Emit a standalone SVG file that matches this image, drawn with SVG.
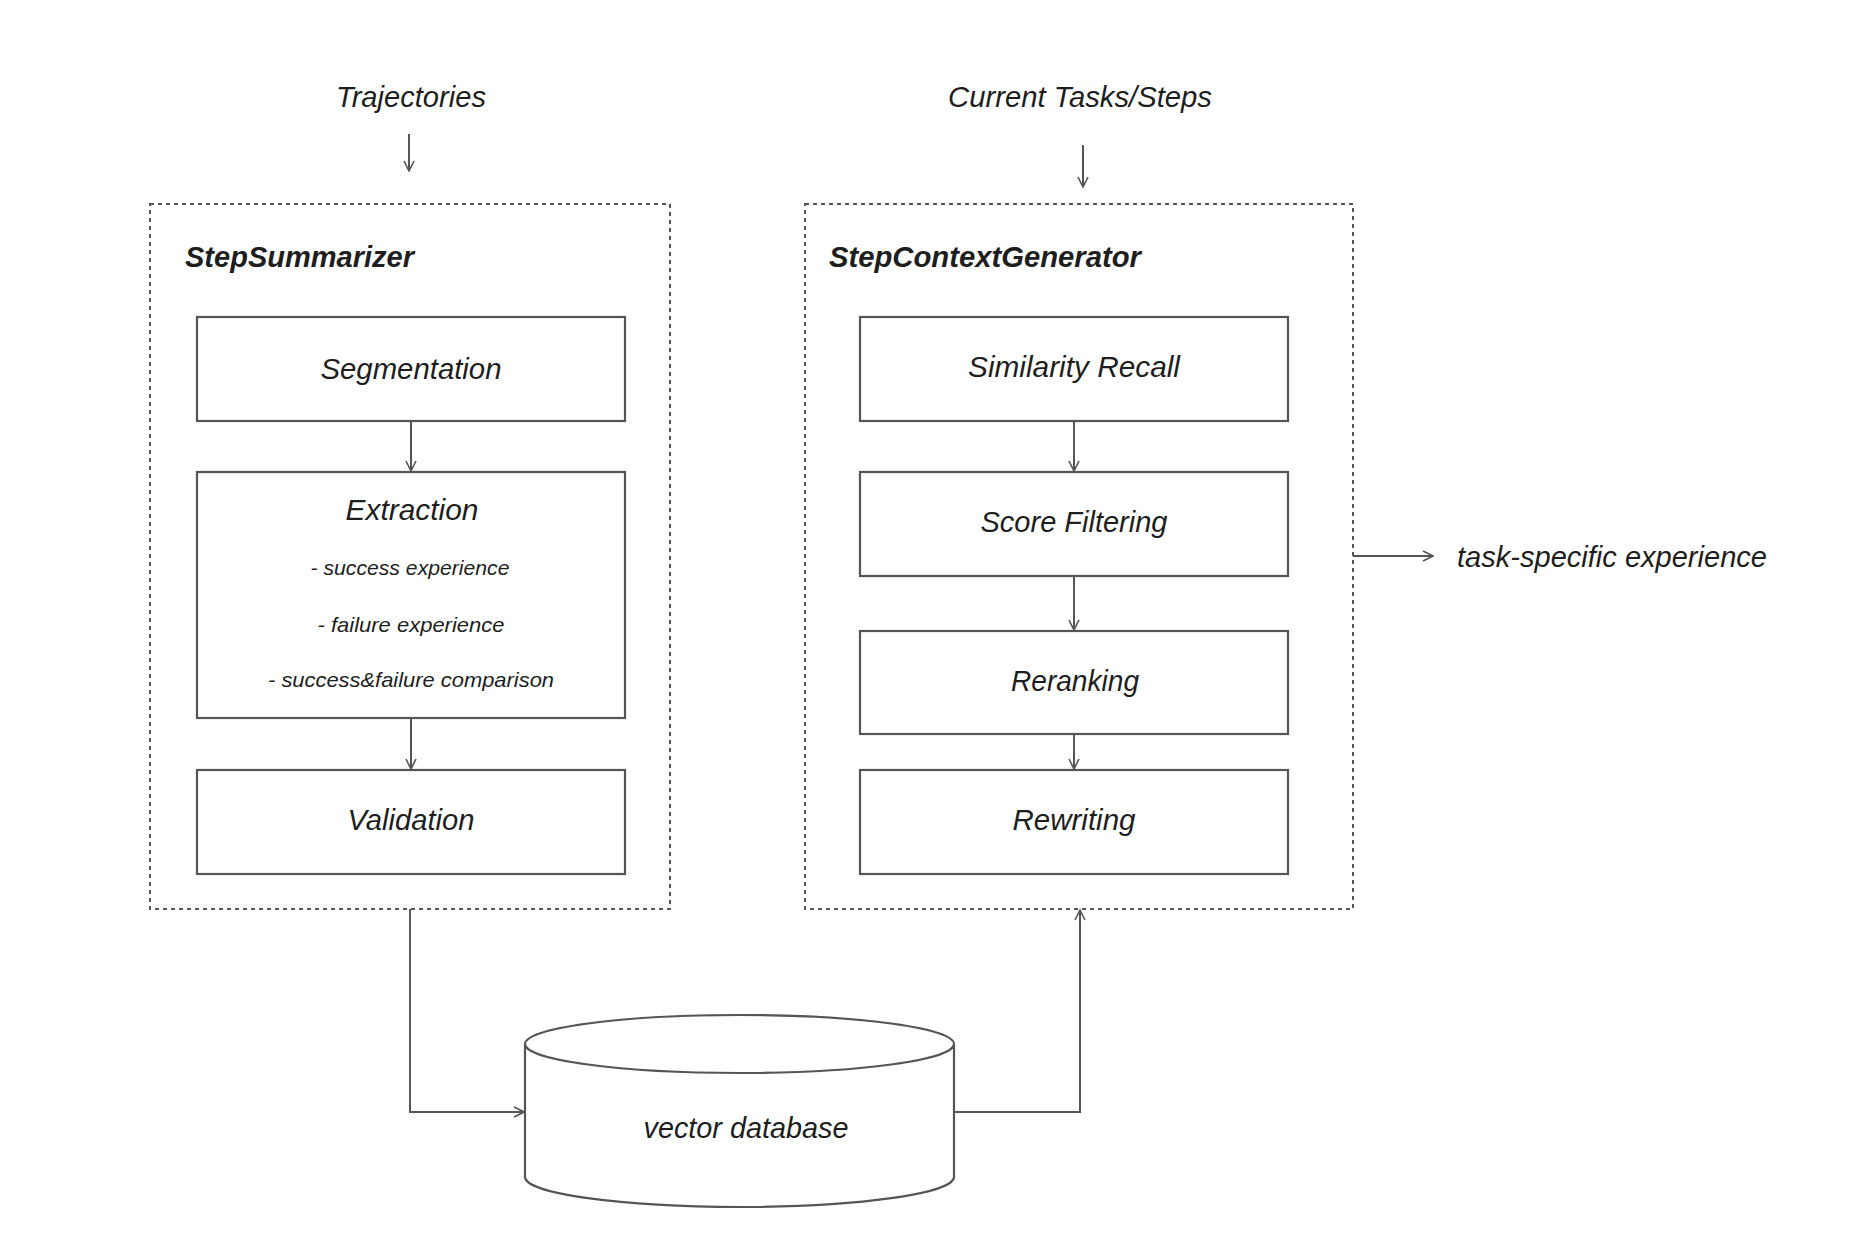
<svg xmlns="http://www.w3.org/2000/svg" width="1860" height="1244" viewBox="0 0 1860 1244">
<defs>
<marker id="arr" viewBox="0 0 12 12" refX="11" refY="6" markerWidth="12" markerHeight="12" markerUnits="userSpaceOnUse" orient="auto">
<path d="M1,1 L11,6 L1,11" fill="none" stroke="#555" stroke-width="1.6"/>
</marker>
<style>
.box{fill:#fff;stroke:#555;stroke-width:2.2}
.dash{fill:none;stroke:#555;stroke-width:2;stroke-dasharray:4 4}
.con{fill:none;stroke:#555;stroke-width:2;marker-end:url(#arr)}
.t{font-family:"Liberation Sans","DejaVu Sans",sans-serif;font-style:italic;fill:#1e1e1e;text-anchor:middle;lengthAdjust:spacingAndGlyphs}
.big{font-size:29px}
.small{font-size:21px}
.title{font-size:30px;font-weight:bold;text-anchor:start}
</style>
</defs>
<rect width="1860" height="1244" fill="#fff"/>

<g id="label-trajectories"><text class="t big" x="411" y="107" textLength="150" lengthAdjust="spacingAndGlyphs">Trajectories</text></g>
<g id="label-current"><text class="t big" x="1080" y="107" textLength="264" lengthAdjust="spacingAndGlyphs">Current Tasks/Steps</text></g>

<g id="step-summarizer">
<rect class="dash" x="150" y="204" width="520" height="705"/>
<text class="t title" x="185" y="267" textLength="229" lengthAdjust="spacingAndGlyphs">StepSummarizer</text>
</g>
<g id="step-context-generator">
<rect class="dash" x="805" y="204" width="548" height="705"/>
<text class="t title" x="829" y="267" textLength="312" lengthAdjust="spacingAndGlyphs">StepContextGenerator</text>
</g>

<g id="segmentation"><rect class="box" x="197" y="317" width="428" height="104"/><text class="t big" x="411" y="379" textLength="181" lengthAdjust="spacingAndGlyphs">Segmentation</text></g>
<g id="extraction"><rect class="box" x="197" y="472" width="428" height="246"/>
<text class="t big" x="412" y="520" textLength="133" lengthAdjust="spacingAndGlyphs">Extraction</text>
<text class="t small" x="410" y="575" textLength="199" lengthAdjust="spacingAndGlyphs">- success experience</text>
<text class="t small" x="411" y="632" textLength="187" lengthAdjust="spacingAndGlyphs">- failure experience</text>
<text class="t small" x="411" y="687" textLength="286" lengthAdjust="spacingAndGlyphs">- success&amp;failure comparison</text>
</g>
<g id="validation"><rect class="box" x="197" y="770" width="428" height="104"/><text class="t big" x="411" y="830" textLength="127" lengthAdjust="spacingAndGlyphs">Validation</text></g>

<g id="similarity-recall"><rect class="box" x="860" y="317" width="428" height="104"/><text class="t big" x="1074" y="377" textLength="212" lengthAdjust="spacingAndGlyphs">Similarity Recall</text></g>
<g id="score-filtering"><rect class="box" x="860" y="472" width="428" height="104"/><text class="t big" x="1074" y="532" textLength="187" lengthAdjust="spacingAndGlyphs">Score Filtering</text></g>
<g id="reranking"><rect class="box" x="860" y="631" width="428" height="103"/><text class="t big" x="1075" y="691" textLength="128" lengthAdjust="spacingAndGlyphs">Reranking</text></g>
<g id="rewriting"><rect class="box" x="860" y="770" width="428" height="104"/><text class="t big" x="1074" y="830" textLength="123" lengthAdjust="spacingAndGlyphs">Rewriting</text></g>

<g id="task-specific"><text class="t big" x="1612" y="567" textLength="310" lengthAdjust="spacingAndGlyphs">task-specific experience</text></g>

<g id="vector-database">
<path class="box" d="M525,1044 L525,1177 A214.5,30 0 0 0 954,1177 L954,1044"/>
<ellipse class="box" cx="739.5" cy="1044" rx="214.5" ry="29"/>
<text class="t big" x="746" y="1138" textLength="205" lengthAdjust="spacingAndGlyphs">vector database</text>
</g>

<g id="connectors">
<path class="con" d="M409,134 L409,171"/>
<path class="con" d="M1083,145 L1083,187"/>
<path class="con" d="M411,421 L411,471"/>
<path class="con" d="M411,718 L411,769"/>
<path class="con" d="M1074,421 L1074,471"/>
<path class="con" d="M1074,576 L1074,630"/>
<path class="con" d="M1074,734 L1074,769"/>
<path class="con" d="M1353,556 L1433,556"/>
<path class="con" d="M410,909 L410,1112 L524,1112"/>
<path class="con" d="M954,1112 L1080,1112 L1080,910"/>
</g>
</svg>
